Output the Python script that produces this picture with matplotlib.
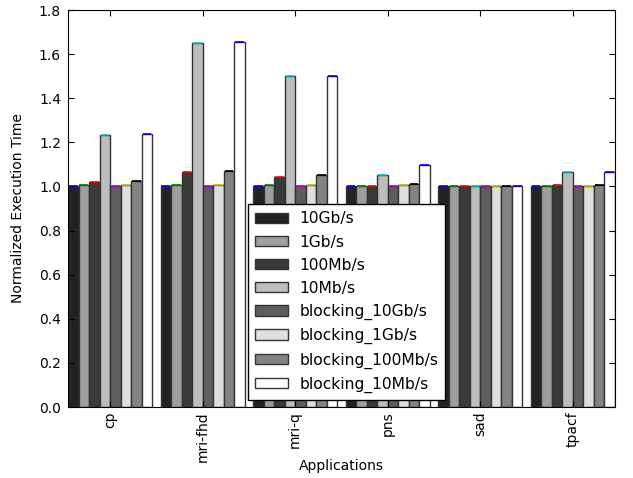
import numpy as np
import matplotlib
matplotlib.use('Agg')
from matplotlib import pyplot as plt

apps = ['cp', 'mri-fhd', 'mri-q', 'pns', 'sad', 'tpacf']
series = ['10Gb/s', '1Gb/s', '100Mb/s', '10Mb/s',
          'blocking_10Gb/s', 'blocking_1Gb/s', 'blocking_100Mb/s', 'blocking_10Mb/s']
values = [
    [1.000, 1.000, 1.000, 1.000, 1.000, 1.000],   # 10Gb/s
    [1.005, 1.005, 1.005, 1.000, 1.000, 1.000],   # 1Gb/s
    [1.022, 1.065, 1.045, 1.000, 1.000, 1.005],   # 100Mb/s
    [1.232, 1.652, 1.500, 1.050, 1.004, 1.065],   # 10Mb/s
    [1.000, 1.000, 1.000, 1.000, 1.000, 1.000],   # blocking_10Gb/s
    [1.005, 1.007, 1.007, 1.005, 1.000, 1.000],   # blocking_1Gb/s
    [1.025, 1.070, 1.050, 1.012, 1.000, 1.007],   # blocking_100Mb/s
    [1.236, 1.657, 1.503, 1.097, 1.003, 1.065],   # blocking_10Mb/s
]
fills = ['#222222', '#9e9e9e', '#3a3a3a', '#bdbdbd', '#5e5e5e', '#dedede', '#838383', '#ffffff']
tops = ['b', 'g', 'r', 'c', 'm', 'y', 'k', 'b']

fig = plt.figure(figsize=(6.33, 4.78), dpi=100)
ax = fig.add_axes([0.1074, 0.1485, 0.8642, 0.8305])

w = 0.114
x = np.arange(len(apps))
for j, s in enumerate(series):
    pos = x + j * w
    ax.bar(pos, values[j], w, align='edge', color=fills[j], edgecolor='#333333',
           linewidth=1.0, label=s)
    ax.hlines(values[j], pos + 0.01, pos + w - 0.01, colors=tops[j], linewidth=1.2)

ax.set_xlim(0, len(apps) - 1 + 8 * w)
ax.set_ylim(0, 1.8)
ax.set_xticks(x + 4 * w)
ax.set_xticklabels(apps, rotation=90, fontsize=10)
ax.set_yticks(np.arange(0, 1.81, 0.2))
ax.set_yticklabels(['%.1f' % v for v in np.arange(0, 1.81, 0.2)], fontsize=10)
ax.tick_params(direction='in', top=True, right=True, length=4)
ax.tick_params(axis='x', pad=3)
ax.tick_params(axis='y', pad=5)
ax.set_xlabel('Applications', fontsize=10, labelpad=-2)
ax.set_ylabel('Normalized Execution Time', fontsize=10, labelpad=10)
ax.legend(loc='lower left', bbox_to_anchor=(0.329, 0.018), fontsize=11.2,
          fancybox=False, framealpha=1, edgecolor='black', borderaxespad=0,
          handlelength=2.15, handleheight=0.65, labelspacing=0.52,
          borderpad=0.45, handletextpad=0.7)
fig.savefig('out.png', dpi=100)
